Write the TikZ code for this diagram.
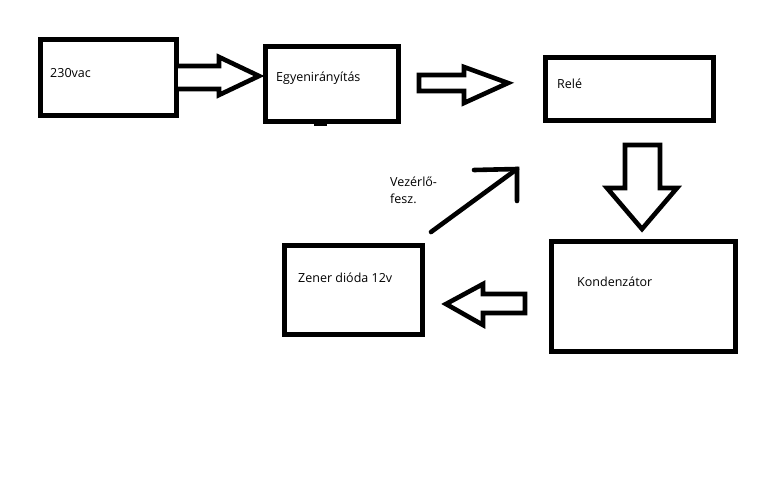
\documentclass[tikz,border=0pt]{standalone}
\usepackage{fontspec}
\setmainfont{Open Sans}
\begin{document}
\begin{tikzpicture}[x=1pt,y=-1pt,
  box/.style={draw=black,line width=5pt,minimum width=#1,inner sep=0pt},
  lbl/.style={anchor=west,inner sep=0pt,font=\fontsize{12.5}{17}\selectfont,text=black},
  blk/.style={draw=black,line width=4.6pt,line join=miter,fill=white},
  thin/.style={draw=black,line width=4.6pt,line cap=round}]
\useasboundingbox (0,0) rectangle (768,480);
% boxes
\node[box=136pt,minimum height=76pt] (ac) at (108,77.5) {};
\node[box=133pt,minimum height=75pt] (egy) at (331.5,83.5) {};
\node[box=168pt,minimum height=63pt] (rele) at (629,88.5) {};
\node[box=184pt,minimum height=110pt] (kond) at (643,296) {};
\node[box=138pt,minimum height=89pt] (zen) at (353,289.5) {};
\draw[line width=3pt] (314,124.5) -- (327,124.5);
% labels
\node[lbl] (tac) at (50,73) {230vac};
\node[lbl] (tegy) at (276,78) {Egyenirányítás};
\node[lbl] (trele) at (557,84) {Relé};
\node[lbl] (tkond) at (577,282) {Kondenzátor};
\node[lbl] (tzen) at (298,278) {Zener dióda 12v};
\node[lbl,align=left] (tvez) at (390,190) {Vezérlő-\\fesz.};
% block arrows
\draw[blk] (178,66) -- (219,66) -- (219,57) -- (259,76) -- (219,95) -- (219,89) -- (178,89);
\draw[blk] (419,75) -- (464,75) -- (464,67) -- (508,83) -- (464,103) -- (464,91) -- (419,91) -- cycle;
\draw[blk] (625,145) -- (660,145) -- (660,188) -- (677,188) -- (642,229) -- (607,188) -- (625,188) -- cycle;
\draw[blk] (525,294) -- (483,294) -- (483,284) -- (446,304) -- (483,325) -- (483,313) -- (525,313) -- cycle;
% diagonal arrow
\coordinate (d0) at (431,232);
\coordinate (d1) at (517,169);
\draw[thin] (d0) -- (d1);
\draw[thin] (474,170) -- (d1) -- (517,201);
\end{tikzpicture}
\end{document}
